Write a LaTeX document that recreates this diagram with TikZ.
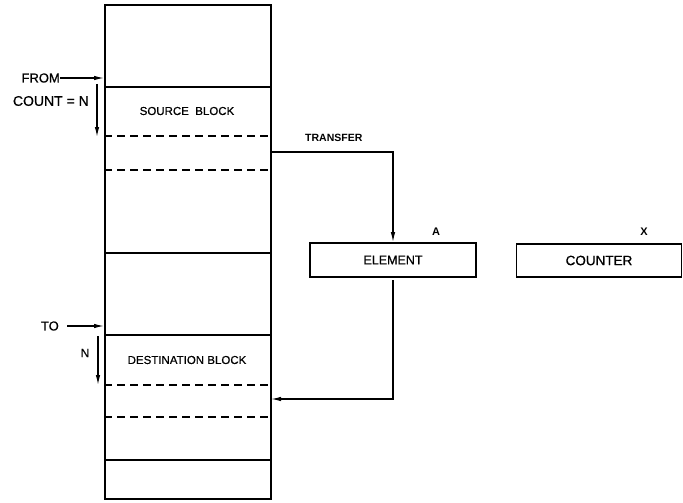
\documentclass[tikz,border=0pt]{standalone}
\usepackage{fontspec}
\setmainfont{Liberation Sans}[UprightFeatures={FakeBold=0.6}]
\usetikzlibrary{arrows.meta}
\begin{document}
\begin{tikzpicture}[x=1pt,y=-1pt,
  wall/.style={line width=1.8pt},
  sep/.style={line width=1.6pt},
  dsep/.style={line width=1.6pt, dash pattern=on 8pt off 5pt},
  arr/.style={line width=1.2pt, -{Latex[length=10pt,width=4.5pt]}},
  lbl/.style={font=\fontsize{13}{15}\selectfont, inner sep=0pt},
  blbl/.style={font=\bfseries\fontsize{10.5}{12}\selectfont, inner sep=0pt},
  box/.style={draw, line width=1.7pt, inner sep=0pt, font=\fontsize{12.5}{14}\selectfont}]
\useasboundingbox (0,0) rectangle (683,503);
% memory column
\node[draw, wall, inner sep=0pt, minimum width=166pt, minimum height=494pt, anchor=north west] (mem) at (104,4) {};
\draw[sep] (104,87) -- (270,87);
\draw[dsep] (104,136) -- (270,136);
\draw[dsep] (104,170) -- (270,170);
\draw[sep] (104,253) -- (270,253);
\draw[sep] (104,335) -- (270,335);
\draw[dsep] (104,385) -- (270,385);
\draw[dsep] (104,417) -- (270,417);
\draw[sep] (104,460) -- (270,460);
% block labels
\node[lbl, font=\fontsize{11.5}{13}\selectfont] (src) at (187,111) {SOURCE\ \ BLOCK};
\node[lbl, font=\fontsize{11.5}{13}\selectfont] (dst) at (187,360) {DESTINATION BLOCK};
% FROM / COUNT
\node[lbl, anchor=east] (from) at (60,78) {FROM};
\draw[arr] (from.east) -- (mem.west |- from.east);
\node[lbl, anchor=east, font=\fontsize{14}{16}\selectfont] (count) at (89,101) {COUNT = N};
\coordinate (c1) at (97,84);
\coordinate (c2) at (97,137);
\draw[arr] (c1) -- (c2);
% TO / N
\node[lbl, anchor=east] (to) at (59,326) {TO};
\draw[arr] (67,326) -- (mem.west |- to.east);
\node[lbl, font=\fontsize{12}{14}\selectfont] (n) at (85,353) {N};
\coordinate (d1) at (98,336);
\coordinate (d2) at (98,385);
\draw[arr] (d1) -- (d2);
% element and counter
\node[box, minimum width=166pt, minimum height=34pt] (element) at (393,260) {ELEMENT};
\node[box, minimum width=165pt, minimum height=33pt, font=\fontsize{13.5}{15}\selectfont] (counter) at (599,260.5) {COUNTER};
\node[blbl, font=\bfseries\fontsize{11}{13}\selectfont] (a) at (436,232) {A};
\node[blbl, font=\bfseries\fontsize{11}{13}\selectfont] (x) at (644,232) {X};
% transfer
\coordinate (t0) at (270,152);
\node[blbl, anchor=west] (tr) at (305,138) {TRANSFER};
\draw[arr] (t0) -| (element.north);
\coordinate (b1) at (393,280);
\coordinate (b2) at (393,399);
\coordinate (b3) at (271,399);
\draw[arr] (b1) -- (b2) -- (b3);
\end{tikzpicture}
\end{document}
